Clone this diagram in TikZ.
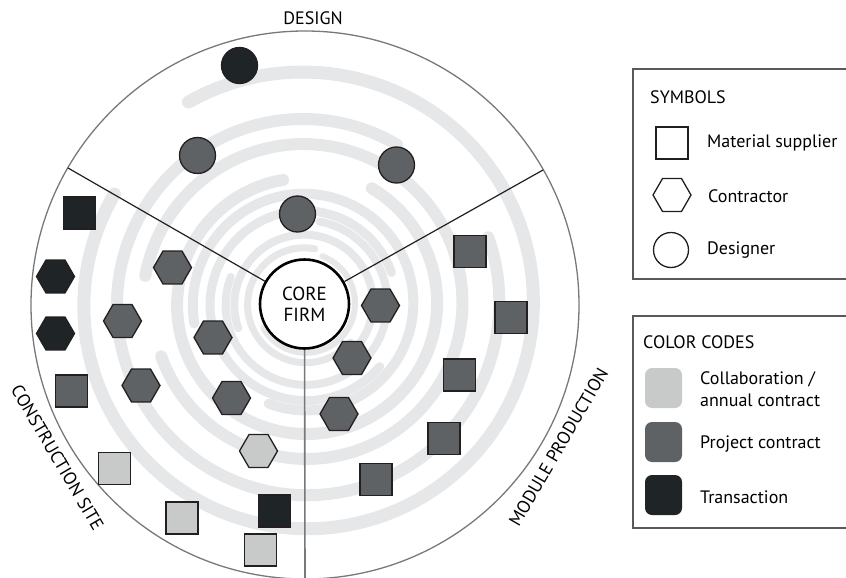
\documentclass[tikz,border=0pt]{standalone}
\usepackage{fontspec}
\setmainfont{PT Sans}
\usetikzlibrary{shapes.geometric}
\definecolor{band}{HTML}{E6E7E8}
\definecolor{dk}{HTML}{1F2426}
\definecolor{md}{HTML}{5F6264}
\definecolor{lt}{HTML}{C8CAC9}
\definecolor{ln}{HTML}{231F20}
\definecolor{rimc}{HTML}{77787B}
\definecolor{boxc}{HTML}{58595B}
\begin{document}
\begin{tikzpicture}[x=1pt,y=-1pt,
  font=\fontsize{18}{21}\selectfont,
  sq/.style={rectangle, draw=ln, line width=1.3pt, minimum size=32pt, inner sep=0pt},
  hx/.style={regular polygon, regular polygon sides=6, draw=ln, line width=1.3pt, minimum size=38pt, inner sep=0pt},
  ci/.style={circle, draw=ln, line width=1.3pt, minimum size=36pt, inner sep=0pt},
  sw/.style={rectangle, rounded corners=7pt, minimum width=37pt, minimum height=40pt, inner sep=0pt},
  lbl/.style={anchor=west, inner sep=0pt, align=left},
  bandline/.style={draw=band, line cap=round},
  part/.style={draw=ln, line width=1.2pt}]
\useasboundingbox (0,0) rectangle (846,578);
\clip (0,0) rectangle (846,578);
% spiral background
\foreach \R/\w/\a/\s in {220/13/150/330, 184/12/60/320, 153/12/200/330, 126/12/100/320,
  106/10/250/300, 92/9/20/300, 79/8/160/280, 67/8/300/260, 56/7/80/240, 48/6/210/220} {
  \pgfmathsetmacro\e{\a+\s}
  \draw[bandline, line width=\w pt] plot[domain=\a:\e, samples=120, variable=\t]
    ({305+\R*(1+0.06*(\t-\a)/\s)*cos(\t)}, {304-\R*(1+0.06*(\t-\a)/\s)*sin(\t)});
}
% outer circle
\node[circle, draw=rimc, line width=1.3pt, minimum size=548pt, inner sep=0pt] (rim) at (305,305) {};
% core
\node[circle, draw=black, line width=2.6pt, fill=white, minimum size=89pt, inner sep=0pt,
  align=center, font=\fontsize{19}{21}\selectfont] (core) at (304.5,304) {CORE\\FIRM};
\coordinate (pL) at (68,168);
\coordinate (pR) at (543,170);
\coordinate (pB) at (305,578);
\draw[part] (core) -- (pL);
\draw[part] (core) -- (pR);
\draw[draw=rimc, line width=1.6pt] (core) -- (pB);
% labels
\node (design) at (313,18) {DESIGN};
\node[rotate=-59.6, inner sep=0pt] (csite) at (57.5,457.5) {CONSTRUCTION SITE};
\node[rotate=59.8, inner sep=0pt] (mprod) at (558.5,447) {MODULE PRODUCTION};
% design
\node[ci, fill=dk] (d1) at (239.5,65.5) {};
\node[ci, fill=md] (d2) at (197.5,155.5) {};
\node[ci, fill=md] (d3) at (396.5,165) {};
\node[ci, fill=md] (d4) at (297.5,214) {};
% construction site
\node[sq, fill=dk] (c1) at (79.5,213) {};
\node[hx, fill=dk] (c2) at (55.5,276.5) {};
\node[hx, fill=dk] (c3) at (55.5,333.5) {};
\node[hx, fill=md] (c4) at (172.5,267.5) {};
\node[hx, fill=md] (c5) at (122.5,321) {};
\node[hx, fill=md] (c6) at (213,337.5) {};
\node[sq, fill=md] (c7) at (71.5,391) {};
\node[hx, fill=md] (c8) at (141,385.5) {};
\node[hx, fill=md] (c9) at (231.5,398) {};
\node[hx, fill=lt] (c10) at (258.5,451) {};
\node[sq, fill=lt] (c11) at (114.5,468.5) {};
\node[sq, fill=lt] (c12) at (182,518) {};
\node[sq, fill=dk] (c13) at (274.5,511) {};
\node[sq, fill=lt] (c14) at (260.5,550) {};
% module production
\node[sq, fill=md] (m1) at (470,251.5) {};
\node[sq, fill=md] (m2) at (511,317.5) {};
\node[hx, fill=md] (m3) at (380.5,305.5) {};
\node[hx, fill=md] (m4) at (352,358) {};
\node[sq, fill=md] (m5) at (459.5,375) {};
\node[hx, fill=md] (m6) at (339,414) {};
\node[sq, fill=md] (m7) at (444,438.5) {};
\node[sq, fill=md] (m8) at (376,479.5) {};
% legend: symbols
\draw[draw=boxc, line width=1.4pt] (633,69) rectangle (870,279);
\node[lbl] (symh) at (650,97) {SYMBOLS};
\node[sq, fill=white] (ls) at (672,143) {};
\node[hx, fill=white] (lh) at (672,195) {};
\node[ci, fill=white, minimum size=35pt] (lc) at (671,250) {};
\node[lbl] (lst) at (707,143) {Material supplier};
\node[lbl] (lht) at (708,196) {Contractor};
\node[lbl] (lct) at (707,250) {Designer};
% legend: colour codes
\draw[draw=boxc, line width=1.4pt] (633,316) rectangle (870,528);
\node[lbl] (colh) at (643,342) {COLOR CODES};
\node[sw, fill=lt] (s1) at (663.5,388) {};
\node[sw, fill=md] (s2) at (663.5,442) {};
\node[sw, fill=dk] (s3) at (663.5,495) {};
\node[lbl, font=\fontsize{18}{22}\selectfont] (s1t) at (700,389) {Collaboration /\\annual contract};
\node[lbl] (s2t) at (700,444) {Project contract};
\node[lbl] (s3t) at (700,497) {Transaction};
\end{tikzpicture}
\end{document}
